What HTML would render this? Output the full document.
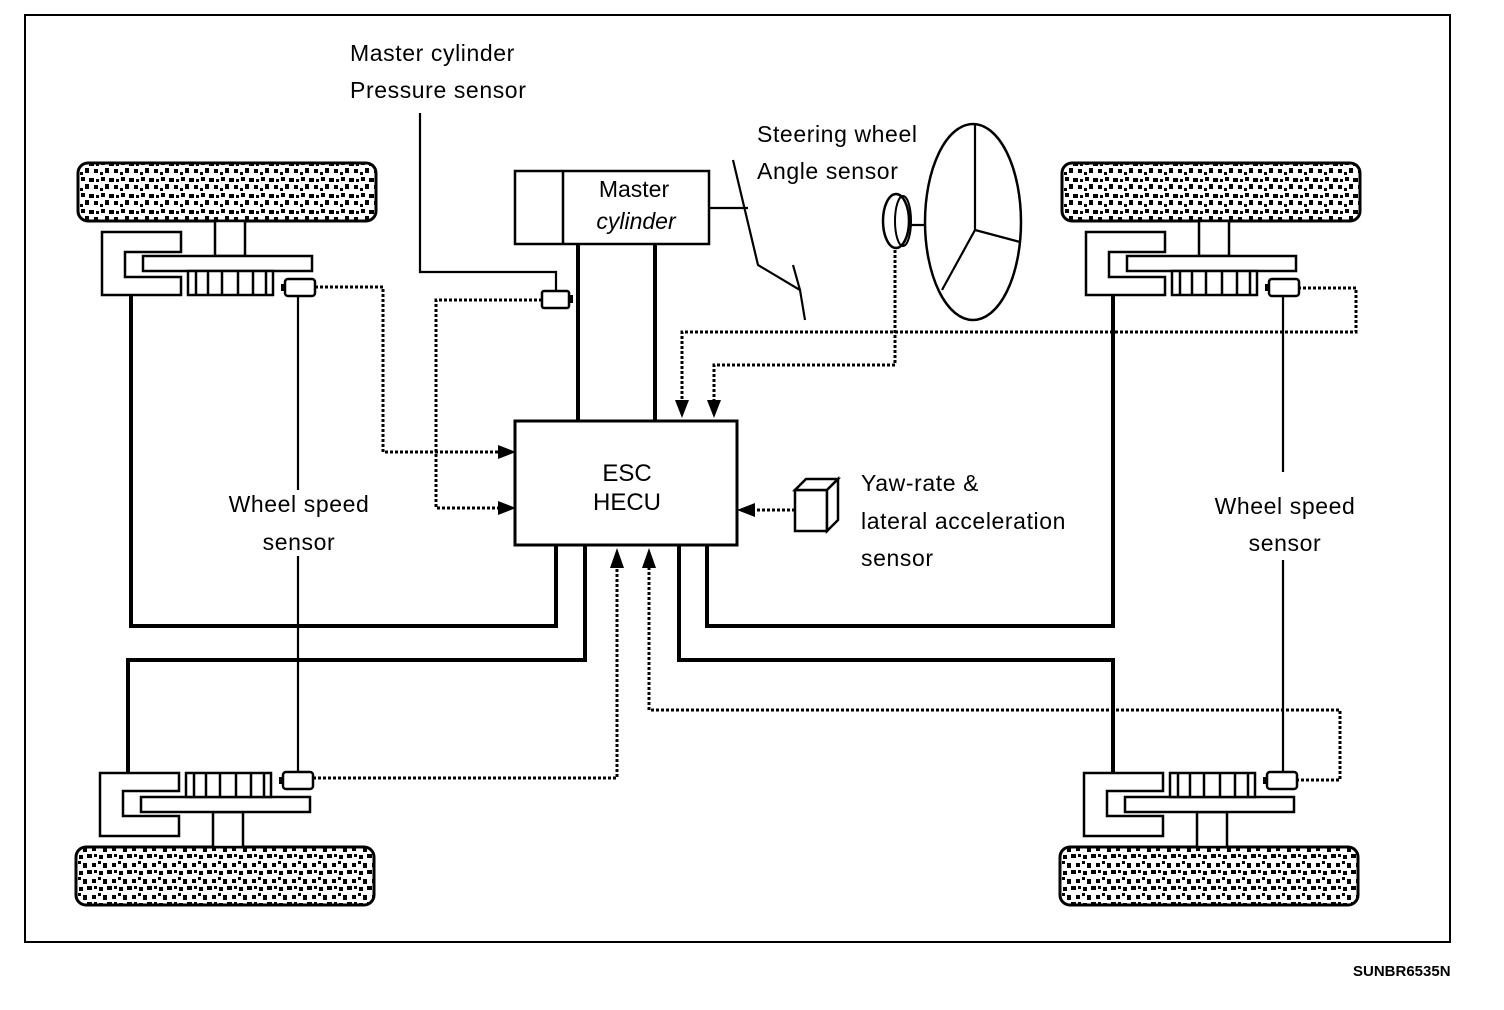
<!DOCTYPE html>
<html><head><meta charset="utf-8"><style>
html,body{margin:0;padding:0;background:#fff;}
svg{display:block;}
text{font-family:"Liberation Sans",Arial,sans-serif;fill:#000;}
</style></head><body>
<svg width="1504" height="1010" viewBox="0 0 1504 1010" xmlns="http://www.w3.org/2000/svg">
<defs>
<pattern id="tex" width="20" height="16" patternUnits="userSpaceOnUse">
<rect width="20" height="16" fill="#fff"/>
<rect x="1" y="1" width="4" height="4" fill="#000"/>
<rect x="9" y="2" width="5" height="4" fill="#000"/>
<rect x="5" y="8" width="4" height="5" fill="#000"/>
<rect x="14" y="9" width="4" height="4" fill="#000"/>
<rect x="0" y="12" width="3" height="3" fill="#000"/>
<rect x="16" y="3" width="3" height="3" fill="#000"/>
</pattern>
<g id="wheel" stroke="#000" fill="#fff">
<rect x="78" y="163" width="298" height="58" rx="10" stroke-width="3" fill="url(#tex)"/>
<rect x="215" y="221" width="30" height="35" stroke-width="2.5"/>
<path d="M102,232 H181 V252 H125 V277 H181 V295 H102 Z" stroke-width="2.5"/>
<rect x="143" y="256" width="169" height="15" stroke-width="2.5"/>
<rect x="188" y="271" width="85" height="24" stroke-width="2.5"/>
<path d="M196,271V295M208,271V295M222,271V295M238,271V295M253,271V295M266,271V295" stroke-width="2.5"/>
<rect x="285" y="279" width="30" height="17" rx="3" stroke-width="2.5"/>
<rect x="281" y="284" width="4" height="7" fill="#000" stroke-width="0"/>
</g>
</defs>

<rect x="25" y="15" width="1425" height="927" fill="none" stroke="#000" stroke-width="2"/>

<use href="#wheel"/>
<use href="#wheel" transform="translate(984,0)"/>
<use href="#wheel" transform="translate(-2,1068) scale(1,-1)"/>
<use href="#wheel" transform="translate(982,1068) scale(1,-1)"/>

<g fill="none" stroke="#000" stroke-width="4">
<path d="M131,296 V626 H556 V545"/>
<path d="M128,772 V660 H585 V545"/>
<path d="M1113,296 V626 H707 V545"/>
<path d="M1113,772 V660 H679 V545"/>
<path d="M578,244 V421"/>
<path d="M655,244 V421"/>
</g>

<g fill="none" stroke="#000" stroke-width="2.2">
<path d="M298,297 V490"/>
<path d="M298,556 V772"/>
<path d="M1283,297 V472"/>
<path d="M1283,560 V772"/>
<path d="M420,113 V272 H556 V291"/>
<path d="M709,208 H748"/>
<path d="M733,160 L758,265 L800,290 L805,320"/>
<path d="M793,265 L800,290"/>
<path d="M905,225 H926"/>
<path d="M975,124 V230 L1020,242 M975,230 L942,290"/>
</g>

<g fill="none" stroke="#000" stroke-width="3" stroke-dasharray="3,2">
<path d="M315,287 H383 V452 H500"/>
<path d="M542,300 H436 V508 H500"/>
<path d="M895,250 V365 H714 V404"/>
<path d="M1298,288 H1356 V332 H682 V404"/>
<path d="M795,510 H752"/>
<path d="M313,778 H617 V565"/>
<path d="M1296,780 H1340 V710 H649 V565"/>
</g>

<g fill="#000">
<polygon points="516,452 498,445 498,459"/>
<polygon points="516,508 498,501 498,515"/>
<polygon points="682,418 675,400 689,400"/>
<polygon points="714,418 707,400 721,400"/>
<polygon points="737,510 755,503 755,517"/>
<polygon points="617,548 610,568 624,568"/>
<polygon points="649,548 642,568 656,568"/>
</g>

<rect x="542" y="291" width="27" height="17" rx="2" fill="#fff" stroke="#000" stroke-width="2.5"/>
<rect x="569" y="295" width="4" height="8" fill="#000"/>

<rect x="515" y="171" width="194" height="73" fill="#fff" stroke="#000" stroke-width="2.5"/>
<line x1="563" y1="171" x2="563" y2="244" stroke="#000" stroke-width="2.5"/>
<text x="634" y="197" font-size="23" text-anchor="middle">Master</text>
<text x="636" y="229" font-size="23" text-anchor="middle" font-style="italic">cylinder</text>

<ellipse cx="896" cy="221" rx="13" ry="27" fill="#fff" stroke="#000" stroke-width="2.5"/>
<ellipse cx="903" cy="221" rx="8" ry="25" fill="none" stroke="#000" stroke-width="2"/>
<ellipse cx="973" cy="222" rx="48" ry="98" fill="none" stroke="#000" stroke-width="2.5"/>

<rect x="515" y="421" width="222" height="124" fill="#fff" stroke="#000" stroke-width="3"/>
<text x="627" y="481" font-size="24" text-anchor="middle">ESC</text>
<text x="627" y="510" font-size="24" text-anchor="middle">HECU</text>

<g fill="#fff" stroke="#000" stroke-width="2.5">
<rect x="795" y="490" width="32" height="41"/>
<path d="M795,490 L806,479 H838 L827,490 Z"/>
<path d="M827,490 L838,479 V520 L827,531 Z"/>
</g>

<g font-size="23" letter-spacing="0.6">
<text x="350" y="61">Master cylinder</text>
<text x="350" y="98">Pressure sensor</text>
<text x="757" y="142">Steering wheel</text>
<text x="757" y="179">Angle sensor</text>
<text x="299" y="512" text-anchor="middle">Wheel speed</text>
<text x="299" y="550" text-anchor="middle">sensor</text>
<text x="1285" y="514" text-anchor="middle">Wheel speed</text>
<text x="1285" y="551" text-anchor="middle">sensor</text>
<text x="861" y="491">Yaw-rate &amp;</text>
<text x="861" y="529">lateral acceleration</text>
<text x="861" y="566">sensor</text>
</g>
<text x="1353" y="976" font-size="15" font-weight="bold">SUNBR6535N</text>
</svg>
</body></html>
